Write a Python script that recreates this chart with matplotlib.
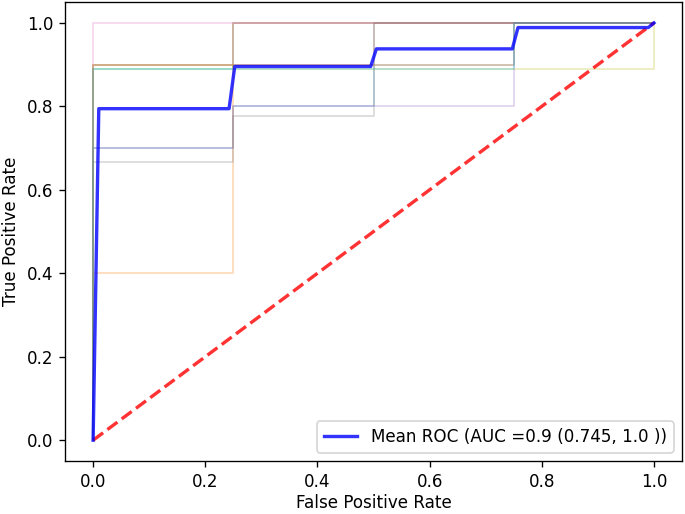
import numpy as np
import matplotlib
matplotlib.use("Agg")
import matplotlib.pyplot as plt

# fpr steps shared by every fold (4 negatives per fold)
fold_fpr = [0.0, 0.25, 0.5, 0.75, 1.0]

# tpr of each fold on each fpr segment
fold_tpr = [
    [0.7, 0.8, 0.9, 1.0],
    [0.4, 0.9, 0.9, 1.0],
    [0.889, 1.0, 1.0, 1.0],
    [0.9, 1.0, 1.0, 1.0],
    [0.7, 0.8, 0.8, 1.0],
    [0.9, 0.9, 1.0, 1.0],
    [1.0, 1.0, 1.0, 1.0],
    [0.667, 0.778, 1.0, 1.0],
    [0.9, 0.889, 0.889, 0.889],
    [0.889, 0.889, 0.889, 1.0],
]

mean_label = "Mean ROC (AUC =0.9 (0.745, 1.0 ))"

fig = plt.figure(figsize=(685 / 121, 514 / 121), dpi=121)
ax = fig.add_subplot(111)

mean_fpr = np.linspace(0, 1, 100)
tprs = []
for vals in fold_tpr:
    # build the step curve as roc_curve would return it
    xs = [0.0]
    ys = [0.0]
    for i, v in enumerate(vals):
        xs += [fold_fpr[i], fold_fpr[i + 1]]
        ys += [v, v]
    xs.append(1.0)
    ys.append(1.0)
    ax.plot(xs, ys, lw=1, alpha=0.3)
    t = np.interp(mean_fpr, xs, ys)
    t[0] = 0.0
    tprs.append(t)

mean_tpr = np.mean(tprs, axis=0)
mean_tpr[-1] = 1.0

ax.plot([0, 1], [0, 1], linestyle="--", lw=2, color="r", alpha=0.8)
ax.plot(mean_fpr, mean_tpr, color="b", lw=2, alpha=0.8, label=mean_label)

ax.set_xlabel("False Positive Rate", labelpad=2)
ax.set_ylabel("True Positive Rate")
ax.legend(loc="lower right")

fig.subplots_adjust(left=0.095, right=0.9956, bottom=0.103, top=0.996)
fig.savefig("out.png")
